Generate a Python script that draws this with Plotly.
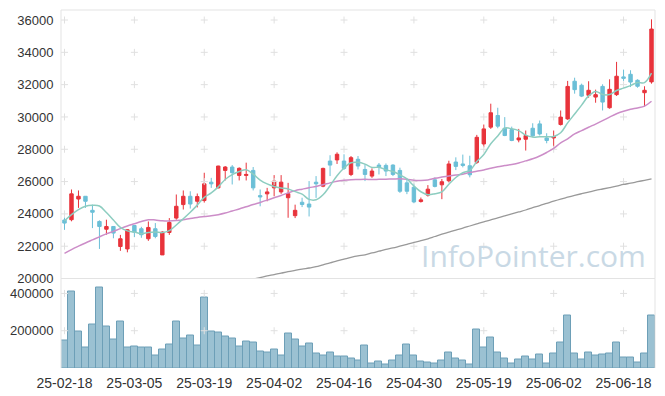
import plotly.graph_objects as go

dates = ["25-02-18", "25-02-19", "25-02-20", "25-02-21", "25-02-24", "25-02-25", "25-02-26", "25-02-27", "25-02-28",
         "25-03-04", "25-03-05", "25-03-06", "25-03-07", "25-03-10", "25-03-11", "25-03-12", "25-03-13", "25-03-14",
         "25-03-17", "25-03-18", "25-03-19", "25-03-20", "25-03-21", "25-03-24", "25-03-25", "25-03-26", "25-03-27",
         "25-03-28", "25-03-31", "25-04-01", "25-04-02", "25-04-03", "25-04-04", "25-04-07", "25-04-08", "25-04-09",
         "25-04-10", "25-04-11", "25-04-14", "25-04-15", "25-04-16", "25-04-17", "25-04-18", "25-04-21", "25-04-22",
         "25-04-23", "25-04-24", "25-04-25", "25-04-28", "25-04-29", "25-04-30", "25-05-02", "25-05-07", "25-05-08",
         "25-05-09", "25-05-12", "25-05-13", "25-05-14", "25-05-15", "25-05-16", "25-05-19", "25-05-20", "25-05-21",
         "25-05-22", "25-05-23", "25-05-26", "25-05-27", "25-05-28", "25-05-29", "25-05-30", "25-06-02", "25-06-04",
         "25-06-05", "25-06-09", "25-06-10", "25-06-11", "25-06-12", "25-06-13", "25-06-16", "25-06-17", "25-06-18",
         "25-06-19", "25-06-20", "25-06-23", "25-06-24"]

opens = [23620, 23640, 24920, 25090, 24220, 23530, 23050, 23220, 21980, 21830,
         23280, 23080, 22460, 23080, 21460, 22850, 23740, 24575, 25090, 24780,
         24825, 25960, 25610, 26690, 26900, 26380, 26380, 26690, 25130, 25240,
         25610, 25360, 25000, 23890, 24720, 24610, 25960, 25715, 27270, 27340,
         27270, 26440, 27380, 26750, 26340, 27020, 27000, 27020, 26690, 25920,
         25650, 24764, 25160, 26110, 25800, 26050, 27210, 27090, 26980, 27190,
         28330, 29370, 30090, 29300, 29220, 28580, 28620, 29300, 29570, 28700,
         28700, 29530, 29880, 32210, 31960, 31340, 31230, 31890, 30570, 31380,
         32480, 32640, 32270, 31500, 32170]
highs = [23780, 25510, 25450, 25100, 24570, 23600, 23640, 23230, 22700, 23050,
         23300, 23200, 23530, 23430, 22930, 23740, 25200, 25450, 25400, 25260,
         26545, 26230, 26980, 26960, 27020, 26880, 27170, 26900, 25510, 25610,
         26400, 26400, 25920, 24570, 25000, 26030, 26340, 26860, 27630, 27810,
         27690, 27580, 27580, 27070, 26815, 27150, 27120, 27070, 26860, 26160,
         25880, 25010, 25780, 26260, 26160, 27290, 27500, 27670, 27600, 28890,
         29530, 30820, 30570, 29990, 29400, 29260, 29160, 29610, 29780, 28990,
         29160, 30400, 32230, 32430, 32060, 32210, 31690, 32020, 32330, 33410,
         32930, 32890, 32330, 31900, 36040]
lows = [23010, 23540, 24370, 24370, 23120, 21830, 22710, 22490, 21710, 21620,
        22560, 22520, 22330, 22490, 21460, 22700, 23640, 24270, 24330, 24400,
        24700, 25610, 25580, 26070, 25820, 26070, 26070, 25450, 24470, 24780,
        25090, 25240, 23760, 23740, 24420, 23840, 24990, 25650, 26340, 27090,
        26720, 26340, 26750, 26030, 26230, 26440, 26340, 26340, 25300, 25220,
        24660, 24700, 25070, 25640, 24910, 25950, 26710, 26880, 26260, 27090,
        28120, 29260, 29300, 28810, 28500, 28430, 27920, 28740, 28850, 28370,
        28120, 29470, 29820, 31440, 31230, 31190, 30880, 30400, 30510, 31300,
        32230, 31850, 31810, 30650, 32060]
closes = [23430, 25240, 25090, 24780, 24100, 23220, 23220, 22810, 22460, 23020,
          22870, 22710, 23160, 22600, 22870, 23470, 24470, 25090, 24610, 25070,
          25860, 25860, 26960, 26900, 26550, 26820, 26440, 25610, 25050, 25360,
          26030, 25965, 25250, 24220, 24580, 24420, 25860, 26815, 27020, 27690,
          26815, 27480, 26960, 26440, 26650, 26920, 26650, 26440, 25400, 25400,
          24740, 24868, 25530, 25700, 25990, 27090, 26940, 27000, 26420, 28740,
          29260, 30260, 29430, 28850, 28540, 28700, 28850, 28830, 28950, 28540,
          28790, 29990, 31890, 31690, 31290, 31650, 31380, 30920, 31710, 32520,
          32390, 32160, 31900, 31650, 35440]
volumes = [150000, 410000, 198000, 109000, 235000, 433000, 220000, 151000, 251000, 109000,
           113000, 108000, 108000, 66000, 97000, 125000, 251000, 156000, 172000, 119000,
           379000, 194000, 189000, 168000, 157000, 115000, 142000, 136000, 88000, 83000,
           99000, 67000, 184000, 152000, 115000, 131000, 78000, 67000, 83000, 62000,
           62000, 51000, 41000, 120000, 25000, 35000, 19000, 41000, 67000, 126000,
           67000, 35000, 30000, 25000, 41000, 83000, 51000, 41000, 19000, 205000,
           110000, 163000, 82000, 50000, 26000, 45000, 63000, 45000, 74000, 26000,
           79000, 137000, 279000, 79000, 45000, 82000, 69000, 74000, 79000, 137000,
           55000, 55000, 31000, 79000, 284000]
ma5 = [23560, 23950, 24260, 24470, 24528, 24486, 24082, 23626, 23162, 22946,
       22876, 22774, 22844, 22872, 22842, 22962, 23314, 23700, 24102, 24542,
       25020, 25298, 25672, 26130, 26426, 26618, 26734, 26464, 26094, 25856,
       25698, 25603, 25541, 25375, 25219, 24897, 24876, 25179, 25739, 26361,
       26840, 27164, 27193, 27077, 26869, 26890, 26724, 26620, 26412, 26162,
       25726, 25370, 25188, 25248, 25366, 25836, 26250, 26544, 26688, 27238,
       27672, 28336, 28822, 29308, 29268, 29156, 28874, 28754, 28774, 28774,
       28792, 29020, 29632, 30180, 30730, 31302, 31580, 31386, 31390, 31636,
       31784, 31940, 32136, 32124, 32708]
ma20 = [21560, 21790, 22000, 22200, 22390, 22580, 22760, 22920, 23090, 23250,
        23390, 23530, 23640, 23620, 23570, 23560, 23590, 23640, 23720, 23780,
        23840, 23880, 23950, 24050, 24180, 24300, 24440, 24580, 24710, 24850,
        25000, 25140, 25300, 25440, 25530, 25620, 25700, 25800, 25920, 26020,
        26080, 26120, 26130, 26140, 26130, 26140, 26150, 26160, 26170, 26140,
        26080, 26070, 26100, 26200, 26280, 26350, 26410, 26460, 26570, 26640,
        26720, 26830, 26920, 26990, 27060, 27150, 27280, 27410, 27580, 27800,
        28050, 28400, 28650, 28950, 29150, 29360, 29560, 29770, 29990, 30200,
        30350, 30470, 30560, 30670, 30970]
ma_long = [None] * 27 + [
    19960, 20060, 20160, 20240, 20330, 20420, 20500, 20580, 20650, 20730,
    20850, 20960, 21090, 21200, 21310, 21400, 21460, 21580, 21690, 21800,
    21890, 22000, 22110, 22230, 22340, 22460, 22600, 22740, 22870, 23000,
    23120, 23250, 23380, 23510, 23630, 23760, 23880, 24000, 24120, 24240,
    24380, 24510, 24650, 24790, 24920, 25030, 25140, 25250, 25350, 25450,
    25540, 25630, 25720, 25820, 25900, 25990, 26080, 26170]

price_ticks = [20000, 22000, 24000, 26000, 28000, 30000, 32000, 34000, 36000]
volume_ticks = [200000, 400000]
x_ticks = dates[::10]

UP = "#e8333b"
DOWN = "#6bbfd7"
GRID = "#e0e0e0"
FRAME = "#e3e3e3"
FONT = "Liberation Sans, Arial, sans-serif"

fig = go.Figure()

fig.add_trace(go.Candlestick(
    x=dates, open=opens, high=highs, low=lows, close=closes,
    xaxis="x", yaxis="y",
    increasing=dict(line=dict(color=UP, width=1), fillcolor=UP),
    decreasing=dict(line=dict(color=DOWN, width=1), fillcolor=DOWN),
    showlegend=False))

fig.add_trace(go.Bar(x=dates, y=volumes, xaxis="x2", yaxis="y2",
                     marker=dict(color="#9bc1d2", line=dict(color="#6d9fb7", width=1)),
                     showlegend=False))

# grid crosses at tick intersections
cx, cy = [], []
for d in x_ticks:
    for v in price_ticks[1:]:
        cx.append(d)
        cy.append(v)
fig.add_trace(go.Scatter(x=cx, y=cy, mode="markers", xaxis="x", yaxis="y",
                         marker=dict(symbol="cross-thin", size=5, line=dict(color=GRID, width=1)),
                         hoverinfo="skip", showlegend=False))
vx, vy = [], []
for d in x_ticks:
    for v in volume_ticks:
        vx.append(d)
        vy.append(v)
fig.add_trace(go.Scatter(x=vx, y=vy, mode="markers", xaxis="x2", yaxis="y2",
                         marker=dict(symbol="cross-thin", size=5, line=dict(color=GRID, width=1)),
                         hoverinfo="skip", showlegend=False))

fig.add_trace(go.Scatter(x=dates, y=ma_long, mode="lines", xaxis="x", yaxis="y",
                         line=dict(color="#999999", width=1.3, shape="spline"),
                         connectgaps=False, showlegend=False))
fig.add_trace(go.Scatter(x=dates, y=ma20, mode="lines", xaxis="x", yaxis="y",
                         line=dict(color="#cc8dc8", width=1.5, shape="spline"),
                         showlegend=False))
fig.add_trace(go.Scatter(x=dates, y=ma5, mode="lines", xaxis="x", yaxis="y",
                         line=dict(color="#8dcdc0", width=1.5, shape="spline"),
                         showlegend=False))

# page body has an 8px default margin, so the figure is 8px smaller on each axis
fig.update_layout(
    width=657, height=388,
    margin=dict(l=53, r=10, t=2, b=28),
    paper_bgcolor="white", plot_bgcolor="white",
    font=dict(family=FONT, color="#333333"),
    bargap=0, boxgap=0.3,
    xaxis=dict(type="category", categoryorder="array", categoryarray=dates,
               range=[-0.5, 84.5], domain=[0, 1], anchor="y", automargin=False,
               showticklabels=False, showgrid=False, zeroline=False, showline=False,
               rangeslider=dict(visible=False), fixedrange=True),
    xaxis2=dict(type="category", categoryorder="array", categoryarray=dates,
                range=[-0.5, 84.5], domain=[0, 1], anchor="y2", matches="x", automargin=False,
                tickmode="array", tickvals=x_ticks, ticktext=x_ticks, tickangle=0,
                showgrid=False, zeroline=False, showline=False,
                ticks="outside", ticklen=2, tickcolor="rgba(0,0,0,0)",
                tickfont=dict(size=14, color="#333333", family=FONT)),
    yaxis=dict(domain=[0.25, 1], range=[20000, 36620], anchor="x", automargin=False,
               tickmode="array", tickvals=price_ticks, ticktext=[str(v) for v in price_ticks],
               showgrid=False, zeroline=False, showline=False,
               ticks="outside", ticklen=4, tickcolor="rgba(0,0,0,0)",
               tickfont=dict(size=13, color="#333333", family=FONT)),
    yaxis2=dict(domain=[0, 0.25], range=[0, 480000], anchor="x2", automargin=False,
                tickmode="array", tickvals=volume_ticks, ticktext=[str(v) for v in volume_ticks],
                showgrid=False, zeroline=False, showline=False,
                ticks="outside", ticklen=4, tickcolor="rgba(0,0,0,0)",
                tickfont=dict(size=13, color="#333333", family=FONT)),
    shapes=[
        dict(type="rect", xref="paper", yref="paper", x0=0, x1=1, y0=0.25, y1=1,
             line=dict(color=FRAME, width=1), layer="above"),
        dict(type="line", xref="paper", yref="paper", x0=0, x1=0, y0=0, y1=0.25,
             line=dict(color=FRAME, width=1), layer="above"),
        dict(type="line", xref="paper", yref="paper", x0=1, x1=1, y0=0, y1=0.25,
             line=dict(color=FRAME, width=1), layer="above"),
    ],
    annotations=[
        dict(text="InfoPointer.com", xref="paper", yref="paper", x=0.988, y=0.313,
             xanchor="right", yanchor="middle", showarrow=False,
             font=dict(family="Open Sans, Liberation Sans, sans-serif", size=30, color="#c9d9e5")),
    ],
)

fig.write_html("out.html")
